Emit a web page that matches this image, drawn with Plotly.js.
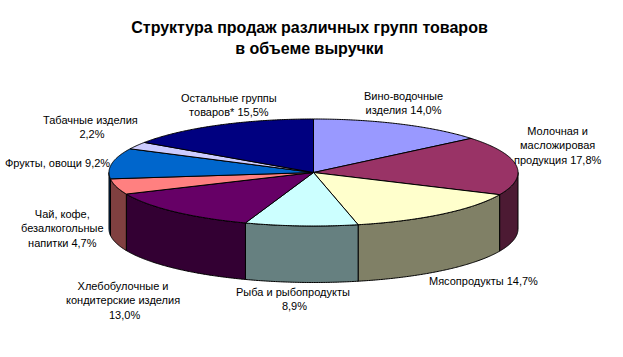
<!DOCTYPE html>
<html><head><meta charset="utf-8">
<script src="https://cdn.plot.ly/plotly-3.0.1.min.js"></script>
<style>html,body{margin:0;padding:0;background:#fff}#c{width:623px;height:357px}</style>
</head><body><div id="c"></div>
<script>
var titleText = "Структура продаж различных групп товаров<br>в объеме выручки";
var categories = ["Вино-водочные<br>изделия","Молочная и<br>масложировая<br>продукция","Мясопродукты","Рыба и рыбопродукты<br>","Хлебобулочные и<br>кондитерские изделия<br>","Чай, кофе,<br>безалкогольные<br>напитки","Фрукты, овощи","Табачные изделия<br>","Остальные группы<br>товаров*"];
var shares = [14.0,17.8,14.7,8.9,13.0,4.7,9.2,2.2,15.5];
var topColors = ["#9999FF","#993366","#FFFFCC","#CCFFFF","#660066","#FF8080","#0066CC","#CCCCFF","#000080"];
var sideColors = ["#4C4C80","#4C1A33","#808066","#668080","#330033","#804040","#003366","#666680","#000040"];
var labelX = [403,558,483,293,123,62,57.5,90.5,229];
var labelY = [103,145.5,280.5,298.5,300,228,163,127,105];

var cx=313.5, cy=172.5, rx=204.5, ry=53.5, depth=56.5;
function pt(deg,dy){var a=deg*Math.PI/180;return [cx+rx*Math.sin(a), cy-ry*Math.cos(a)+(dy||0)];}
function arc(a,b,dy){var xs=[],ys=[],n=Math.max(2,Math.ceil(Math.abs(b-a))*2);
  for(var i=0;i<=n;i++){var p=pt(a+(b-a)*i/n,dy);xs.push(p[0]);ys.push(p[1]);}
  return [xs,ys];}
function poly(xs,ys,color){return {type:"scatter",mode:"lines",x:xs,y:ys,fill:"toself",fillcolor:color,
  line:{color:"#000",width:1,simplify:false},hoverinfo:"skip",showlegend:false};}

var sides=[],tops=[],acc=0;
shares.forEach(function(v,i){
  var a=acc*3.6,b=(acc+v)*3.6;acc+=v;
  var t=arc(a,b);
  tops.push(poly([cx].concat(t[0],[cx]),[cy].concat(t[1],[cy]),topColors[i]));
  var s=Math.max(a,90),e=Math.min(b,270);
  if(e>s){var u=arc(s,e),d=arc(e,s,depth);
    var xs=u[0].concat(d[0]),ys=u[1].concat(d[1]);xs.push(xs[0]);ys.push(ys[0]);
    sides.push(poly(xs,ys,sideColors[i]));}
});
var annotations=categories.map(function(c,i){
  return {x:labelX[i],y:labelY[i],xref:"x",yref:"y",showarrow:false,align:"center",xanchor:"center",yanchor:"middle",
    text:c+" "+shares[i].toFixed(1).replace(".",",")+"%",font:{family:"Liberation Sans, Arial, sans-serif",size:11,color:"#000"}};
});
Plotly.newPlot("c",sides.concat(tops),{
  width:623,height:357,margin:{l:0,r:0,t:0,b:0},paper_bgcolor:"#fff",plot_bgcolor:"#fff",showlegend:false,
  title:{text:titleText,x:309.5/623,xanchor:"center",y:1-33/357,yanchor:"middle",font:{family:"Liberation Sans, Arial, sans-serif",size:16,color:"#000",weight:"bold"}},
  xaxis:{range:[0,623],visible:false,fixedrange:true},
  yaxis:{range:[357,0],visible:false,fixedrange:true},
  annotations:annotations
},{displayModeBar:false,staticPlot:true});
</script></body></html>
